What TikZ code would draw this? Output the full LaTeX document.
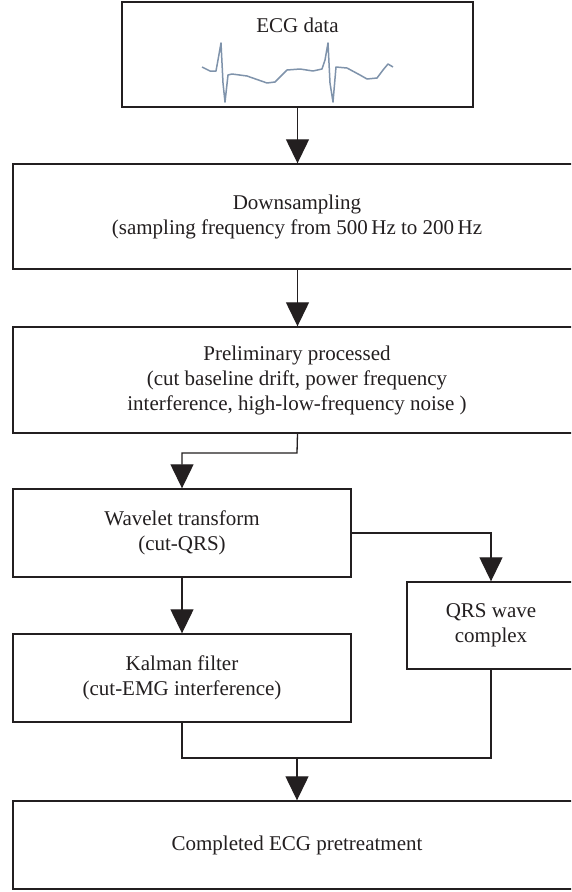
\documentclass[tikz,border=0pt]{standalone}
\usepackage{fontspec}
\setmainfont{Liberation Serif}
\usetikzlibrary{arrows.meta,calc}
\definecolor{ink}{HTML}{231F20}
\definecolor{wavec}{HTML}{7F93AB}
\tikzset{
  box/.style={draw=ink, line width=1.4pt, rectangle, align=center, text=ink,
    font=\fontsize{21}{25}\selectfont, inner sep=0pt},
  conn/.style={draw=ink, line width=1.3pt},
  arr/.style={conn, -{Triangle[width=23pt,length=24pt]}},
}
\begin{document}
\begin{tikzpicture}[x=1pt,y=-1pt]
\clip (0,0) rectangle (571,892);
\fill[white] (0,0) rectangle (571,892);
% boxes
\node[box, minimum width=351pt, minimum height=105pt] (ecg) at (297.5,54.5) {};
\node[text=ink, font=\fontsize{21}{25}\selectfont] (ecgt) at (297.5,25) {ECG data};
\node[box, minimum width=568pt, minimum height=105pt] (down) at (297,216.5)
  {Downsampling\\(sampling frequency from 500\,Hz to 200\,Hz};
\node[box, minimum width=568pt, minimum height=106pt] (prelim) at (297,380)
  {Preliminary processed\\(cut baseline drift, power frequency\\interference, high-low-frequency noise )};
\node[box, minimum width=338pt, minimum height=88pt] (wave) at (182,533)
  {Wavelet transform\\(cut-QRS)};
\node[box, minimum width=168pt, minimum height=87pt] (qrs) at (491,625.5)
  {QRS wave\\complex};
\node[box, minimum width=338pt, minimum height=88pt] (kalman) at (182,678)
  {Kalman filter\\(cut-EMG interference)};
\node[box, minimum width=568pt, minimum height=88pt] (done) at (297,845)
  {Completed ECG pretreatment};
% ECG wave
\draw[wavec, line width=1.5pt, line join=round]
  (202,67) -- (210,71) -- (216,71) -- (218,60) -- (221,43) -- (223,83) -- (225,102)
  -- (228,75) -- (232,74) -- (247,76) -- (267,83) -- (275,82) -- (287,70) -- (300,69)
  -- (313,71) -- (322,69) -- (325,60) -- (328,43) -- (330,83) -- (333,102) -- (336,67)
  -- (347,68) -- (360,75) -- (367,79) -- (377,78) -- (383,70) -- (388,64) -- (393,67);
% connectors
\coordinate (elbow) at (297,453);
\coordinate (merge) at (297,758);
\draw[arr] (ecg.south) -- (ecg.south |- down.north);
\draw[arr] (ecg.south |- down.south) -- (ecg.south |- prelim.north);
\draw[arr] (ecg.south |- prelim.south) -- (elbow) -| (wave.north);
\draw[arr] (wave.south) -- (kalman.north);
\draw[arr] (wave.east) -| (qrs.north);
\draw[conn] (kalman.south) |- (merge) -| (qrs.south);
\draw[arr] (merge) -- (done.north);
\end{tikzpicture}
\end{document}
